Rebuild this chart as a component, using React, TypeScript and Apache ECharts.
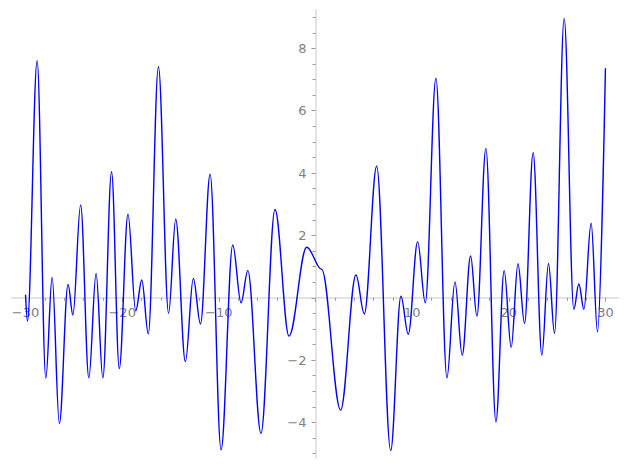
import React, { useEffect, useRef } from "react";
import * as echarts from "echarts";

const curveX = [
  -30.0, -29.8, -28.8, -27.9, -27.25, -26.5, -25.6, -25.1, -24.3, -23.45, -22.7, -22.0, -21.1,
  -20.3, -19.4, -18.6, -17.97, -17.3, -16.25, -15.2, -14.46, -13.46, -12.64, -11.9, -10.9,
  -9.77, -8.56, -7.7, -7.0, -5.64, -4.19, -2.74, -0.91, 0.64, 2.6, 4.19, 5.05, 6.33, 7.78,
  8.84, 9.6, 10.57, 11.36, 12.46, 13.6, 14.43, 15.18, 16.05, 16.7, 17.63, 18.67, 19.52,
  20.25, 20.95, 21.63, 22.52, 23.42, 24.11, 24.73, 25.73, 26.73, 27.25, 27.77, 28.52, 29.18, 30.0,
];
const curveY = [
  0.1, -0.75, 7.6, -2.58, 0.65, -4.03, 0.43, -0.55, 2.98, -2.57, 0.78, -2.57, 4.04,
  -2.27, 2.68, -0.42, 0.57, -1.16, 7.41, -0.5, 2.52, -2.05, 0.62, -0.84, 3.96,
  -4.88, 1.69, -0.16, 0.87, -4.35, 2.83, -1.23, 1.62, 0.91, -3.6, 0.73, -0.52, 4.22, -4.9,
  0.05, -1.17, 1.8, -0.16, 7.04, -2.57, 0.51, -1.84, 1.34, -0.59, 4.79, -3.98, 0.87,
  -1.59, 1.09, -0.82, 4.65, -1.84, 1.1, -1.14, 8.96, -0.37, 0.44, -0.37, 2.39, -1.09, 7.36,
];

const xMajorTicks = [-30, -20, -10, 0, 10, 20, 30];
const xLabels = [-30, -20, -10, 10, 20, 30];
const xMinorTicks = [
  -30, -28, -26, -24, -22, -20, -18, -16, -14, -12, -10, -8, -6, -4, -2, 0,
  2, 4, 6, 8, 10, 12, 14, 16, 18, 20, 22, 24, 26, 28, 30,
];
const yMajorTicks = [-4, -2, 0, 2, 4, 6, 8];
const yLabels = [-4, -2, 2, 4, 6, 8];
const yMinorTicks = [
  -5, -4.5, -4, -3.5, -3, -2.5, -2, -1.5, -1, -0.5, 0, 0.5, 1, 1.5, 2, 2.5, 3, 3.5,
  4, 4.5, 5, 5.5, 6, 6.5, 7, 7.5, 8, 8.5, 9,
];

const X_MIN = -31.4;
const X_MAX = 31.3;
const Y_MIN = -5.14;
const Y_MAX = 9.23;

const fmt = (v: number) => String(v).replace("-", "\u2212");

export default function App() {
  const ref = useRef<HTMLDivElement>(null);
  useEffect(() => {
    if (!ref.current) return;
    const chart = echarts.init(ref.current, undefined, { renderer: "svg" });
    const axisLineColor = "#e3e3e3";
    const tickColor = "#9a9a9a";
    const labelStyle = {
      color: "#808080",
      fontSize: 13,
      fontFamily: "DejaVu Sans",
    };
    chart.setOption({
      animation: false,
      grid: {
        left: 12,
        right: 9,
        top: 10,
        bottom: 12,
        containLabel: false,
        outerBoundsMode: "none",
      },
      xAxis: [
        {
          type: "value",
          min: X_MIN,
          max: X_MAX,
          position: "bottom",
          offset: 0,
          axisLine: { show: true, onZero: false, lineStyle: { color: axisLineColor, width: 2 } },
          axisTick: {
            show: true,
            customValues: xMajorTicks,
            length: 4,
            lineStyle: { color: tickColor, width: 1 },
          },
          axisLabel: {
            show: true,
            customValues: xLabels,
            formatter: fmt,
            margin: 8,
            ...labelStyle,
          },
          splitLine: { show: false },
        },
        {
          type: "value",
          min: X_MIN,
          max: X_MAX,
          position: "bottom",
          offset: 0,
          axisLine: { show: false, onZero: false },
          axisTick: {
            show: true,
            customValues: xMinorTicks,
            length: 3,
            lineStyle: { color: tickColor, width: 1 },
          },
          axisLabel: { show: false },
          splitLine: { show: false },
        },
      ],
      yAxis: [
        {
          type: "value",
          min: Y_MIN,
          max: Y_MAX,
          position: "left",
          offset: 0,
          axisLine: { show: true, onZero: false, lineStyle: { color: axisLineColor, width: 2 } },
          axisTick: {
            show: true,
            customValues: yMajorTicks,
            length: 4,
            lineStyle: { color: tickColor, width: 1 },
          },
          axisLabel: {
            show: true,
            customValues: yLabels,
            formatter: fmt,
            margin: 9,
            ...labelStyle,
          },
          splitLine: { show: false },
        },
        {
          type: "value",
          min: Y_MIN,
          max: Y_MAX,
          position: "left",
          offset: 0,
          axisLine: { show: false, onZero: false },
          axisTick: {
            show: true,
            customValues: yMinorTicks,
            length: 3,
            lineStyle: { color: tickColor, width: 1 },
          },
          axisLabel: { show: false },
          splitLine: { show: false },
        },
      ],
      series: [
        {
          type: "line",
          xAxisIndex: 0,
          yAxisIndex: 0,
          data: curveX.map((x, i) => [x, curveY[i]]),
          showSymbol: false,
          smooth: 0.36,
          smoothMonotone: "x",
          clip: false,
          lineStyle: { color: "#0000ff", width: 1.4 },
          z: 5,
        },
      ],
    });
    // Move the axes so that they cross at the data origin (0, 0).
    const finder = { xAxisIndex: 0, yAxisIndex: 0 };
    const corner = chart.convertToPixel(finder, [X_MIN, Y_MIN]) as number[];
    const origin = chart.convertToPixel(finder, [0, 0]) as number[];
    const xOff = -(corner[1] - origin[1]);
    const yOff = -(origin[0] - corner[0]);
    chart.setOption({
      xAxis: [{ offset: xOff }, { offset: xOff }],
      yAxis: [{ offset: yOff }, { offset: yOff }],
    });
    return () => chart.dispose();
  }, []);
  return <div ref={ref} style={{ width: 627, height: 470, position: "absolute", left: 0, top: 0 }} />;
}
